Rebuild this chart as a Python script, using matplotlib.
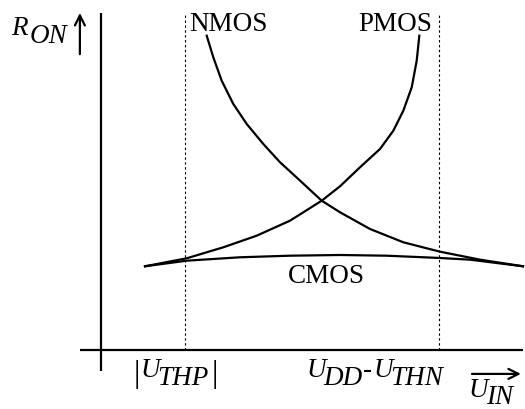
import matplotlib.pyplot as plt

plt.rcParams['font.family'] = 'Liberation Serif'

# curves (U_IN in units where U_DD = 10, R_ON arbitrary)
nmos_u = [2.505, 2.661, 2.860, 3.135, 3.453, 3.846, 4.242, 4.675, 5.230, 5.664,
          6.374, 7.164, 8.033, 8.981, 10.0]
nmos_r = [9.326, 8.685, 7.991, 7.300, 6.706, 6.113, 5.570, 5.074, 4.430, 4.086,
          3.591, 3.196, 2.917, 2.680, 2.484]

pmos_u = [1.043, 2.031, 2.898, 3.690, 4.479, 5.230, 5.664, 6.137, 6.611, 6.927,
          7.164, 7.363, 7.481, 7.543]
pmos_r = [2.484, 2.721, 3.047, 3.392, 3.837, 4.430, 4.858, 5.421, 5.964, 6.507,
          7.101, 7.795, 8.585, 9.326]

cmos_u = [1.043, 2.031, 3.294, 4.479, 5.664, 6.770, 8.033, 8.744, 10.0]
cmos_r = [2.484, 2.650, 2.751, 2.798, 2.819, 2.798, 2.730, 2.680, 2.484]

u_thp = 2.0
u_dd_thn = 8.0

fig = plt.figure(figsize=(5.25, 4.10), dpi=100)
ax = fig.add_axes([0, 0, 1, 1])
ax.set_xlim(-2.393, 10.047)
ax.set_ylim(-1.751, 10.415)
ax.axis('off')

fs = 19.5

# axes
ax.plot([0, 0], [-0.62, 10.0], color='black', lw=1.6, solid_capstyle='butt')
ax.plot([-0.5, 10.0], [0, 0], color='black', lw=1.6, solid_capstyle='butt')

# threshold lines
ax.vlines([u_thp, u_dd_thn], 0, 10.0, colors='black', linestyles=(0, (2.2, 2.2)), lw=0.8)

# curves
ax.plot(nmos_u, nmos_r, color='black', lw=1.6, solid_joinstyle='round')
ax.plot(pmos_u, pmos_r, color='black', lw=1.6, solid_joinstyle='round')
ax.plot(cmos_u, cmos_r, color='black', lw=1.6, solid_joinstyle='round')

ax.text(3.01, 9.50, 'NMOS', fontsize=fs, ha='center', va='baseline')
ax.text(6.98, 9.50, 'PMOS', fontsize=fs, ha='center', va='baseline')
ax.text(5.34, 2.02, 'CMOS', fontsize=fs, ha='center', va='baseline')

# y label with arrow
ax.text(-2.13, 9.38, 'R', fontsize=fs, style='italic', ha='left', va='baseline')
ax.text(-1.70, 9.14, 'ON', fontsize=fs, style='italic', ha='left', va='baseline')
ax.annotate('', xy=(-0.50, 10.0), xytext=(-0.50, 8.78),
            arrowprops=dict(arrowstyle='->', lw=1.6, color='black',
                            mutation_scale=18, shrinkA=0, shrinkB=0))

# x tick labels
ax.text(0.853, -0.92, '|', fontsize=23, ha='center', va='baseline')
ax.text(0.93, -0.77, 'U', fontsize=fs, style='italic', ha='left', va='baseline')
ax.text(1.33, -1.01, 'THP', fontsize=fs, style='italic', ha='left', va='baseline')
ax.text(2.70, -0.92, '|', fontsize=23, ha='center', va='baseline')

ax.text(4.86, -0.77, 'U', fontsize=fs, style='italic', ha='left', va='baseline')
ax.text(5.27, -1.01, 'DD', fontsize=fs, ha='left', style='italic', va='baseline')
ax.text(6.20, -0.77, '-', fontsize=fs, ha='left', va='baseline')
ax.text(6.45, -0.77, 'U', fontsize=fs, style='italic', ha='left', va='baseline')
ax.text(6.85, -1.01, 'THN', fontsize=fs, style='italic', ha='left', va='baseline')

# x label with arrow
ax.annotate('', xy=(9.95, -0.71), xytext=(8.79, -0.71),
            arrowprops=dict(arrowstyle='->', lw=1.6, color='black',
                            mutation_scale=18, shrinkA=0, shrinkB=0))
ax.text(8.70, -1.38, 'U', fontsize=fs, style='italic', ha='left', va='baseline')
ax.text(9.13, -1.58, 'IN', fontsize=fs, style='italic', ha='left', va='baseline')

plt.savefig('out.png', dpi=100)
